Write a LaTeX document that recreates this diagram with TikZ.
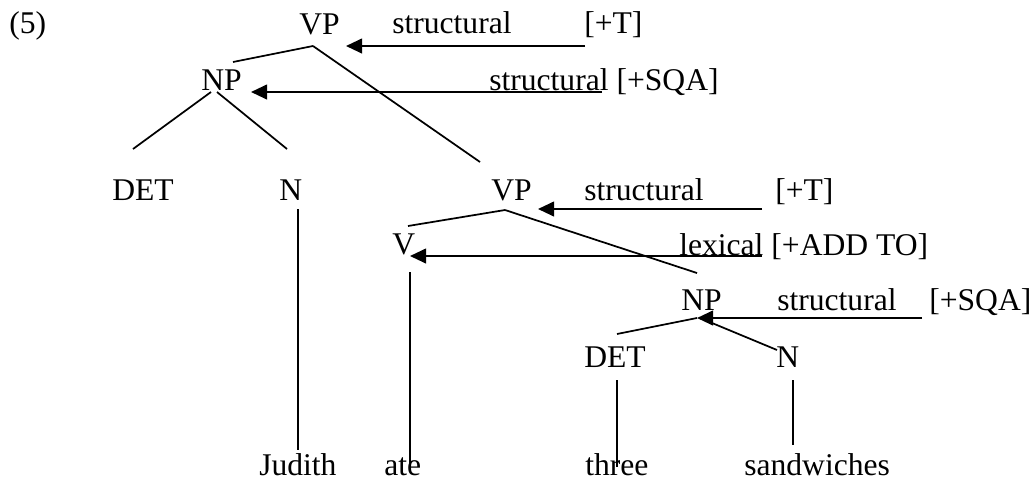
\documentclass[tikz,border=0pt]{standalone}
\usepackage{fontspec}
\setmainfont{Liberation Serif}
\usepackage{tikz}
\usetikzlibrary{arrows.meta}

\begin{document}
\begin{tikzpicture}[x=0.75pt,y=0.75pt,yscale=-1,xscale=1,
  word/.style={anchor=base west,inner sep=0pt,font=\fontsize{23.7}{28}\selectfont},
  branch/.style={line width=1.3pt},
  feature/.style={line width=1.5pt,-{Triangle[length=12pt,width=11pt]}}]
\useasboundingbox (0,0) rectangle (1034,480);
% Text Node
\node[word] (ex) at (9,33) {(5)};
% Text Node
\node[word] (vpA) at (299,34) {VP};
\node[word] (stA) at (392,33) {structural};
\node[word] (tA) at (584,33) {[+T]};
% Text Node
\node[word] (npA) at (201,90) {NP};
\node[word] (stB) at (489,90) {structural [+SQA]};
% Text Node
\node[word] (detA) at (112,200) {DET};
\node[word] (nA) at (279,200) {N};
% Text Node
\node[word] (vpB) at (491,200) {VP};
\node[word] (stC) at (584,200) {structural};
\node[word] (tB) at (775,200) {[+T]};
% Text Node
\node[word] (v) at (392,254) {V};
\node[word] (lex) at (679,255) {lexical [+ADD TO]};
% Text Node
\node[word] (npB) at (681,310) {NP};
\node[word] (stD) at (777,310) {structural};
\node[word] (sqB) at (929,310) {[+SQA]};
% Text Node
\node[word] (detB) at (584,367) {DET};
\node[word] (nB) at (776,367) {N};
% Text Node
\node[word] (judith) at (259,475) {Judith};
\node[word] (ate) at (384,475) {ate};
\node[word] (three) at (585,475) {three};
\node[word] (sandw) at (744,475) {sandwiches};

% branch ends
\coordinate (vpA-s) at (313,46);
\coordinate (npA-n) at (233,62);
\coordinate (vpB-n) at (480,162);
\coordinate (npA-sl) at (211,92);
\coordinate (npA-sr) at (217,92);
\coordinate (detA-n) at (133,149);
\coordinate (nA-n) at (287,149);
\coordinate (nA-s) at (298,209);
\coordinate (judith-n) at (298,450);
\coordinate (vpB-s) at (505,210);
\coordinate (v-n) at (408,226);
\coordinate (npB-n) at (697,273);
\coordinate (v-s) at (410,272);
\coordinate (ate-n) at (410,471);
\coordinate (npB-sl) at (697,318);
\coordinate (npB-sr) at (700,318);
\coordinate (detB-n) at (617,334);
\coordinate (nB-n) at (777,350);
\coordinate (detB-s) at (617,380);
\coordinate (three-n) at (617,467);
\coordinate (nB-s) at (793,380);
\coordinate (sandw-n) at (793,445);

% arrow ends
\coordinate (tA-w) at (585,46);
\coordinate (vpA-e) at (346,46);
\coordinate (stB-w) at (602,92);
\coordinate (npA-e) at (251,92);
\coordinate (tB-w) at (762,209);
\coordinate (vpB-e) at (538,209);
\coordinate (lex-w) at (762,256);
\coordinate (v-e) at (410,256);
\coordinate (sqB-w) at (922,318);
\coordinate (npB-e) at (697,318);

%Straight Lines
\draw[branch] (vpA-s) -- (npA-n);
\draw[branch] (vpA-s) -- (vpB-n);
\draw[branch] (npA-sl) -- (detA-n);
\draw[branch] (npA-sr) -- (nA-n);
\draw[branch] (nA-s) -- (judith-n);
\draw[branch] (vpB-s) -- (v-n);
\draw[branch] (vpB-s) -- (npB-n);
\draw[branch] (v-s) -- (ate-n);
\draw[branch] (npB-sl) -- (detB-n);
\draw[branch] (npB-sr) -- (nB-n);
\draw[branch] (detB-s) -- (three-n);
\draw[branch] (nB-s) -- (sandw-n);

%Arrows
\draw[feature] (tA-w) -- (vpA-e);
\draw[feature] (stB-w) -- (npA-e);
\draw[feature] (tB-w) -- (vpB-e);
\draw[feature] (lex-w) -- (v-e);
\draw[feature] (sqB-w) -- (npB-e);
\end{tikzpicture}
\end{document}
